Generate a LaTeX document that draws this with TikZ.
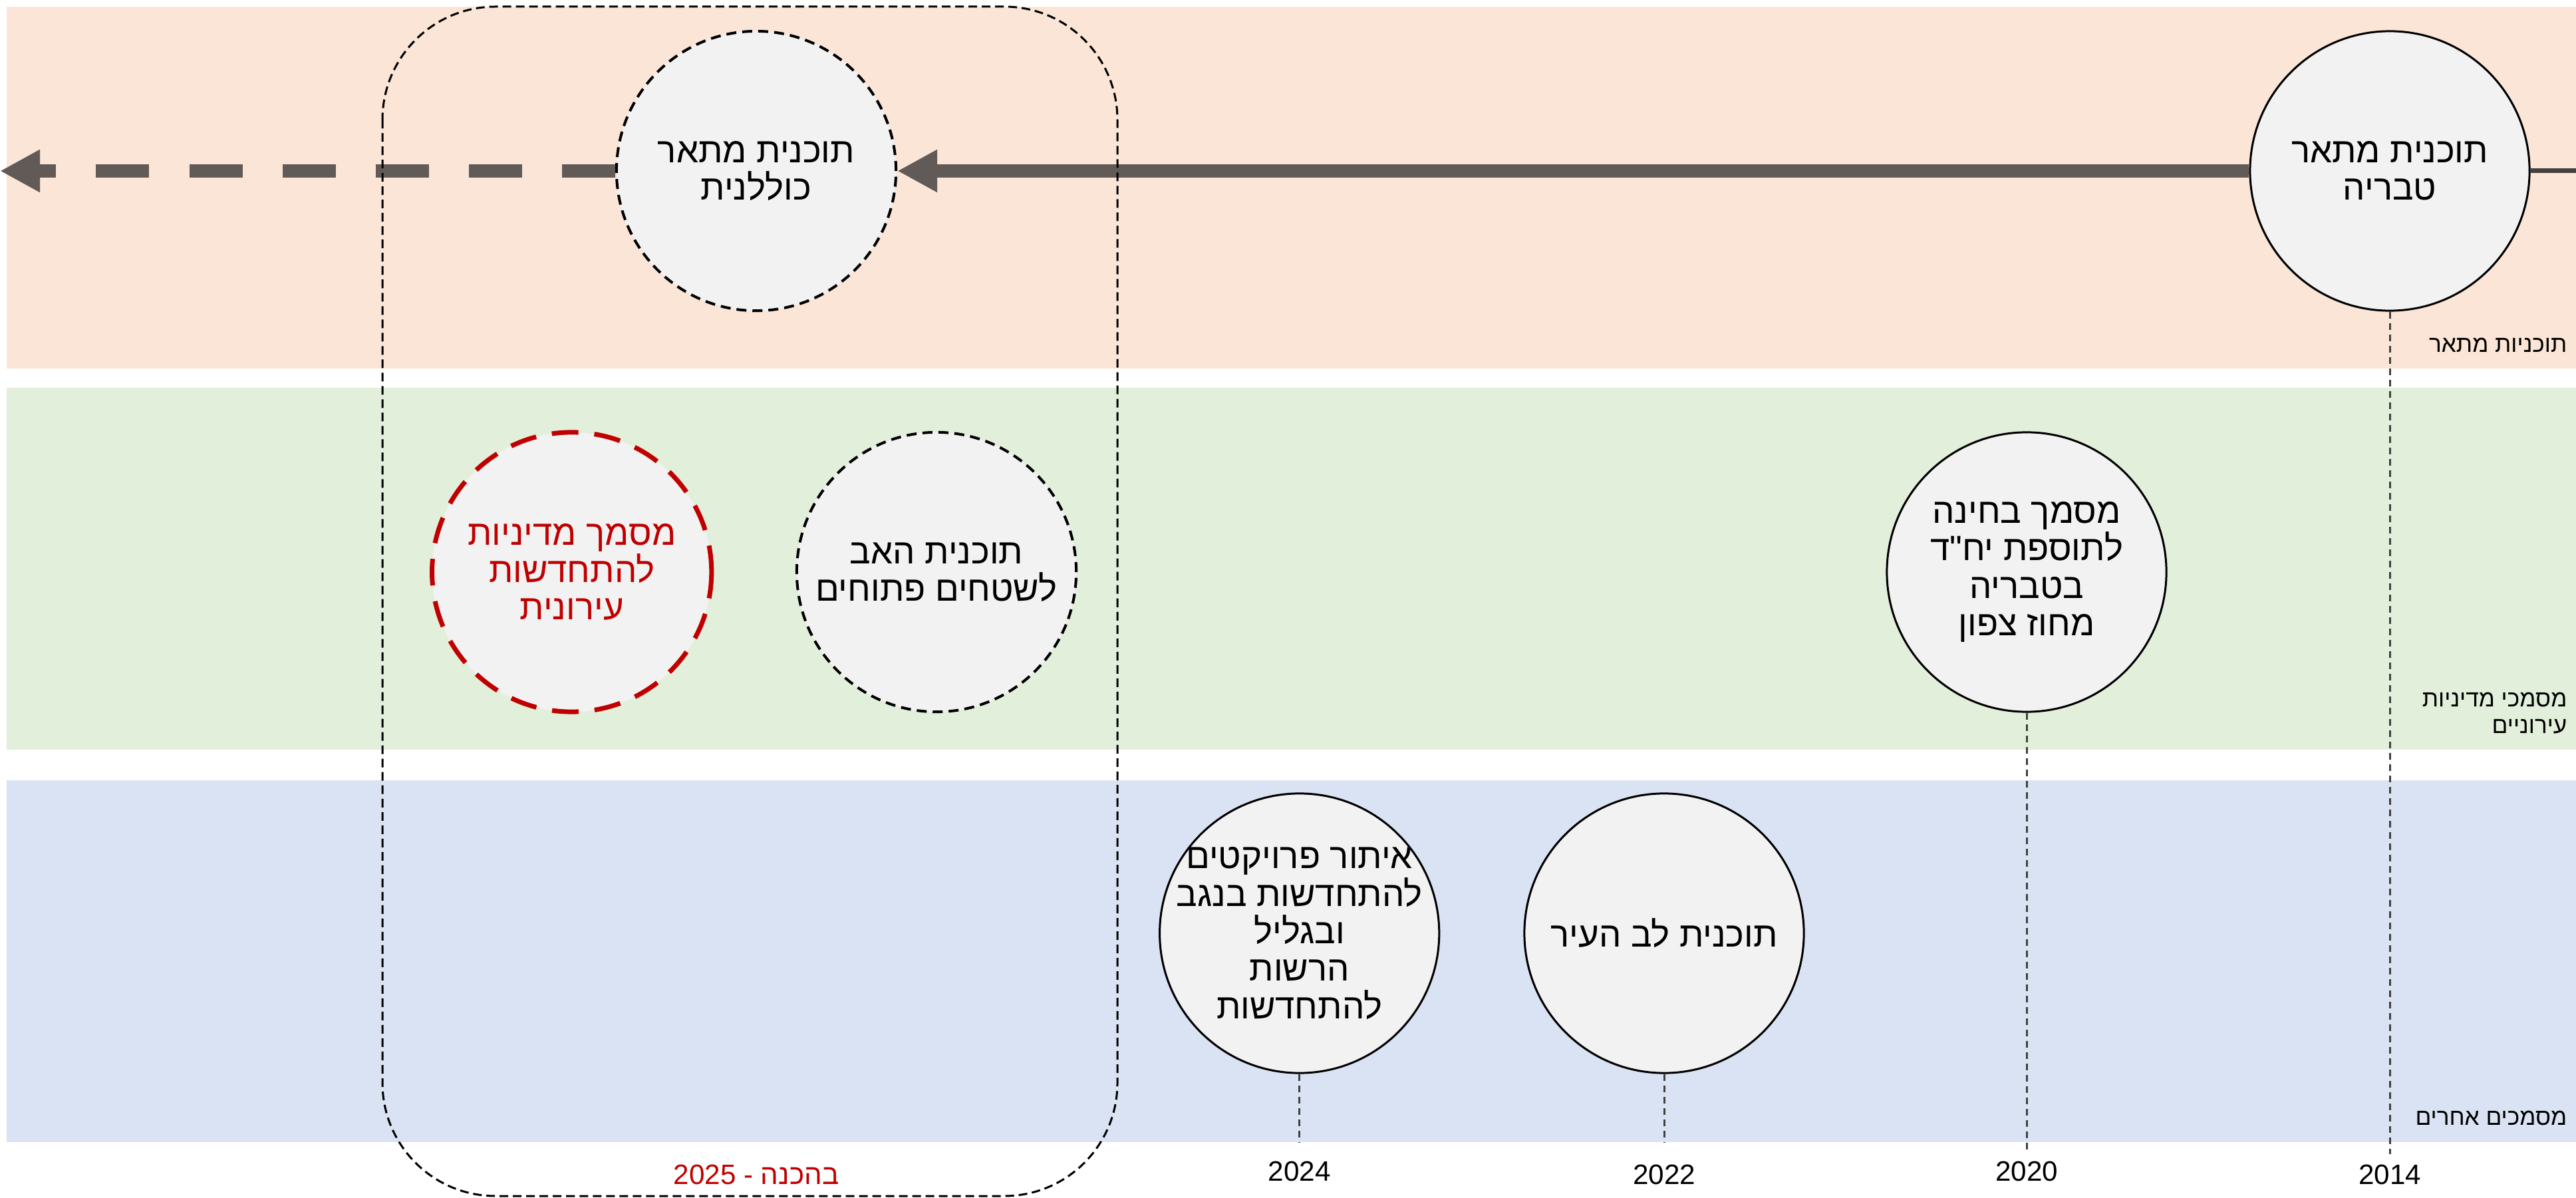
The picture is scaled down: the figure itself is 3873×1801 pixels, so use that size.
\documentclass[tikz,border=0pt]{standalone}
\usepackage{fontspec}
\setmainfont{Liberation Sans}
\newfontfamily\hebfont[Script=Hebrew]{Liberation Sans}
\TeXXeTstate=1
\usetikzlibrary{arrows.meta,automata,positioning}

\definecolor{planband}{HTML}{FBE5D6}
\definecolor{policyband}{HTML}{E2EFDA}
\definecolor{otherband}{HTML}{DAE3F3}
\definecolor{docfill}{HTML}{F2F2F2}
\definecolor{timeline}{RGB}{98,90,87}
\definecolor{draftred}{HTML}{C00000}

\newcommand{\heb}[1]{{\hebfont\beginR #1\endR}}

\begin{document}
\begin{tikzpicture}[x=0.01cm, y=-0.01cm, >={Triangle[length=6mm,width=6mm]},
                    node distance=5.48cm]
  \tikzstyle{every state}=[fill=docfill,draw=black,text=black,line width=0.03cm,
                           minimum size=4.2cm,inner sep=0pt,align=center,
                           font=\fontsize{15}{16}\selectfont]
  \tikzstyle{planned}=[line width=0.04cm,dash pattern=on 0.15cm off 0.09cm]
  \tikzstyle{redplan}=[draw=draftred,text=draftred,line width=0.07cm,
                       dash pattern=on 0.4cm off 0.24cm]
  \tikzstyle{yearlabel}=[font=\fontsize{12}{14}\selectfont,inner sep=0.15cm]
  \tikzstyle{bandlabel}=[font=\fontsize{10}{11.5}\selectfont,inner sep=0pt,align=right]
  \tikzstyle{yearline}=[draw=black!75,line width=0.03cm,dash pattern=on 0.1cm off 0.07cm]

  \useasboundingbox (0,0) rectangle (3873,1801);

  % bands
  \fill[planband]   (10,10)   rectangle (3873,554);
  \fill[policyband] (10,583)  rectangle (3873,1127);
  \fill[otherband]  (10,1173) rectangle (3873,1717);

  \node[bandlabel, anchor=base east] (l1) at (3860,530) {\heb{תוכניות מתאר}};
  \node[bandlabel, anchor=east]      (l2) at (3860,1072) {\heb{מסמכי מדיניות}\\\heb{עירוניים}};
  \node[bandlabel, anchor=base east] (l3) at (3860,1691) {\heb{מסמכים אחרים}};

  % documents
  \node[state]          (14)  at (3593,257)  {\heb{תוכנית מתאר}\\\heb{טבריה}};
  \node[state, planned] (25a) at (1137,257)  {\heb{תוכנית מתאר}\\\heb{כוללנית}};
  \node[state]          (20)  at (3047,860)  {\heb{מסמך בחינה}\\\heb{לתוספת יח"ד}\\\heb{בטבריה}\\\heb{מחוז צפון}};
  \node[state, planned] (25b) at (1408,860)  {\heb{תוכנית האב}\\\heb{לשטחים פתוחים}};
  \node[state, redplan] (25c) [left of=25b]  {\heb{מסמך מדיניות}\\\heb{להתחדשות}\\\heb{עירונית}};
  \node[state]          (22)  at (2502,1403) {\heb{תוכנית לב העיר}};
  \node[state, inner sep=-0.2cm] (24) [left of=22]
        {\heb{איתור פרויקטים}\\\heb{להתחדשות בנגב}\\\heb{ובגליל}\\\heb{הרשות}\\\heb{להתחדשות}};

  % years
  \node[yearlabel] (y14) at (14 |- 0,1766) {2014};
  \node[yearlabel] (y20) at (20 |- 0,1761) {2020};
  \node[yearlabel] (y22) at (22 |- 0,1766) {2022};
  \node[yearlabel] (y24) at (24 |- 0,1761) {2024};
  \node[yearlabel, text=draftred] (y25) at (25a |- 0,1766) {\heb{בהכנה - 2025}};

  \coordinate (past) at (3873,257);
  \coordinate (future) at (0,257);

  \path[yearline]
    (14) edge (y14)
    (20) edge (y20)
    (22) edge [shorten >=0.17cm] (y22)
    (24) edge [shorten >=0.13cm] (y24);

  % timeline
  \draw[timeline!70!black, line width=0.07cm] (14) -- (past);
  \draw[timeline, line width=0.2cm, ->] (14) -- (25a);
  \draw[timeline, line width=0.2cm, dash pattern=on 0.8cm off 0.6cm, ->] (25a) -- (future);

  % 2025 group
  \draw[line width=0.03cm, dash pattern=on 0.13cm off 0.07cm, rounded corners=1.7cm]
    (575,10) rectangle (1680,1798);

\end{tikzpicture}
\end{document}
